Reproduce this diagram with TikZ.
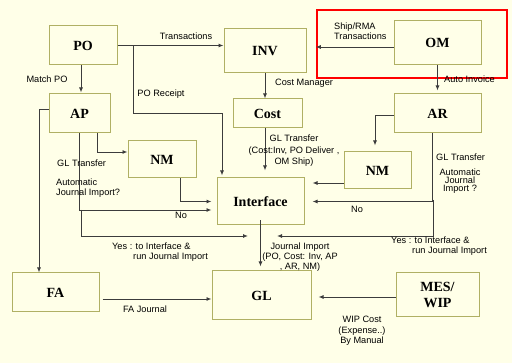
\documentclass[tikz,border=0pt]{standalone}
\usepackage{fontspec}
\setmainfont{Liberation Serif}
\setsansfont{Liberation Sans}
\usetikzlibrary{arrows.meta, positioning}
\definecolor{bgcol}{RGB}{255,255,232}
\definecolor{boxcol}{RGB}{176,176,100}
\definecolor{linecol}{RGB}{60,60,60}
\begin{document}
\begin{tikzpicture}[
  x=1pt, y=-1pt,
  blk/.style={draw=boxcol, line width=1pt, fill=bgcol, inner sep=0pt, align=center,
    font=\fontsize{14}{16}\selectfont\bfseries},
  lbl/.style={inner sep=0pt, text=black, font=\sffamily\fontsize{9.2}{10}\selectfont},
  flow/.style={draw=linecol, line width=0.9pt, -{Latex[length=5pt,width=4pt]}}
]
\fill[bgcol] (0,0) rectangle (512,363);
\useasboundingbox (0,0) rectangle (512,363);

% boxes
\node[blk, minimum width=68pt, minimum height=39pt] (po) at (83,45.5) {PO};
\node[blk, minimum width=82pt, minimum height=44pt] (inv) at (265,51) {INV};
\node[blk, minimum width=87pt, minimum height=44pt] (om) at (437.5,43) {OM};
\node[blk, minimum width=61pt, minimum height=39pt] (ap) at (79.5,113.5) {AP};
\node[blk, minimum width=69pt, minimum height=29pt] (cost) at (267.5,113.5) {Cost};
\node[blk, minimum width=87pt, minimum height=39pt] (ar) at (437.5,113.5) {AR};
\node[blk, minimum width=68pt, minimum height=37pt] (nmA) at (162,159.5) {NM};
\node[blk, minimum width=67pt, minimum height=37pt] (nmB) at (377.5,170.5) {NM};
\node[blk, minimum width=87pt, minimum height=47pt] (iface) at (260.5,201.5) {Interface};
\node[blk, minimum width=87pt, minimum height=39pt] (fa) at (55.5,292.5) {FA};
\node[blk, minimum width=99pt, minimum height=49pt] (gl) at (261.5,295.5) {GL};
\node[blk, minimum width=83pt, minimum height=44pt] (mes) at (437.5,295) {MES/\\WIP};

% highlight round OM
\node[draw=red, line width=2.4pt, minimum width=190pt, minimum height=68pt, inner sep=0pt] (focus) at (412,44) {};

% junctions
\coordinate (rcpt) at (133,45.5);
\coordinate (apsplit) at (81,210);
\coordinate (arsplit) at (433,200);
\coordinate (yesL) at (248,236);
\coordinate (yesR) at (277,236);

% PO side
\draw[flow] (po.east) -- (po.east -| inv.west);
\draw[flow, shorten >=1pt] ([xshift=-2pt]po.south) -- ([xshift=-2pt]po.south |- ap.north);
\draw[flow, shorten >=2pt] (rcpt) -- ++(0,68) -| ([xshift=-38.5pt]iface.north);

% INV / Cost
\draw[flow] (inv.south) -- (inv.south |- cost.north);
\draw[flow, shorten >=7pt] ([xshift=-2.5pt]cost.south) -- ([xshift=-2.5pt]cost.south |- iface.north);

% OM / AR
\draw[flow] ([yshift=-4pt]om.west) -- ([yshift=-4pt]om.west -| focus.west);
\draw[flow, shorten >=3pt] (om.south) -- (om.south |- ar.north);
\draw[flow, shorten >=6pt] ([yshift=-1.5pt]ar.west) -| ([xshift=-2.5pt]nmB.north);
\draw[flow, shorten >=8pt] ([yshift=-12.5pt]nmB.west) -- ([yshift=-12.5pt]nmB.west -| iface.east);
\draw[flow, shorten >=8pt] ([xshift=-5.5pt]ar.south) |- (iface.east);
\draw[flow] (arsplit) |- (yesR);

% AP side
\draw[flow] ([xshift=17.5pt]ap.south) |- ([yshift=7.5pt]nmA.west);
\draw[flow, shorten >=5pt] (ap.south) |- ([yshift=-8.5pt]iface.west);
\draw[flow] (apsplit) |- (yesL);
\draw[flow, shorten >=5pt] ([xshift=18pt]nmA.south) |- (iface.west);
\draw[flow] ([yshift=4.5pt]ap.west) -| ([xshift=-16.5pt]fa.north);

% into GL
\draw[flow, shorten >=4pt] ([yshift=5pt]iface.south) -- (iface.south |- gl.north);
\draw[flow] ([xshift=3pt,yshift=-6.5pt]fa.east) -- ([yshift=-6.5pt]fa.east -| gl.west);
\draw[flow, shorten >=7pt] ([yshift=-2pt]mes.west) -- ([yshift=-2pt]mes.west -| gl.east);

% labels
\node[lbl] (tTrans) at (186,36) {Transactions};
\node[lbl] (tMatch) at (47,79) {Match PO};
\node[lbl] (tRcpt) at (161,94) {PO Receipt};
\node[lbl, anchor=west, align=left] (tShip) at (334,31) {Ship/RMA\\Transactions};
\node[lbl, anchor=west] (tAuto) at (444,79) {Auto Invoice};
\node[lbl, anchor=west] (tCostM) at (275,83) {Cost Manager};
\node[lbl, align=center, font=\sffamily\fontsize{9.2}{11.5}\selectfont] (tGLc) at (294,151) {GL Transfer\\(Cost:Inv, PO Deliver ,\\OM Ship)};
\node[lbl, anchor=west] (tGLa) at (57,163) {GL Transfer};
\node[lbl, anchor=west, align=left] (tJIa) at (56,188) {Automatic\\Journal Import?};
\node[lbl] (tNoA) at (181,215) {No};
\node[lbl, anchor=west, align=left] (tYesA) at (112,252) {Yes : to Interface \&\\\hspace*{21pt}run Journal Import};
\node[lbl, anchor=west] (tGLr) at (436,157) {GL Transfer};
\node[lbl, align=center, font=\sffamily\fontsize{9.2}{8}\selectfont] (tJIr) at (460,181) {Automatic\\Journal\\Import ?};
\node[lbl] (tNoR) at (357,209) {No};
\node[lbl, anchor=west, align=left] (tYesR) at (391,246) {Yes : to Interface \&\\\hspace*{21pt}run Journal Import};
\node[lbl, align=center] (tJI) at (300,257) {Journal Import\\(PO, Cost: Inv, AP\\, AR, NM)};
\node[lbl] (tFA) at (145,309) {FA Journal};
\node[lbl, align=center, font=\sffamily\fontsize{9.2}{10.5}\selectfont] (tWIP) at (362,331) {WIP Cost\\(Expense..)\\By Manual};
\end{tikzpicture}
\end{document}
